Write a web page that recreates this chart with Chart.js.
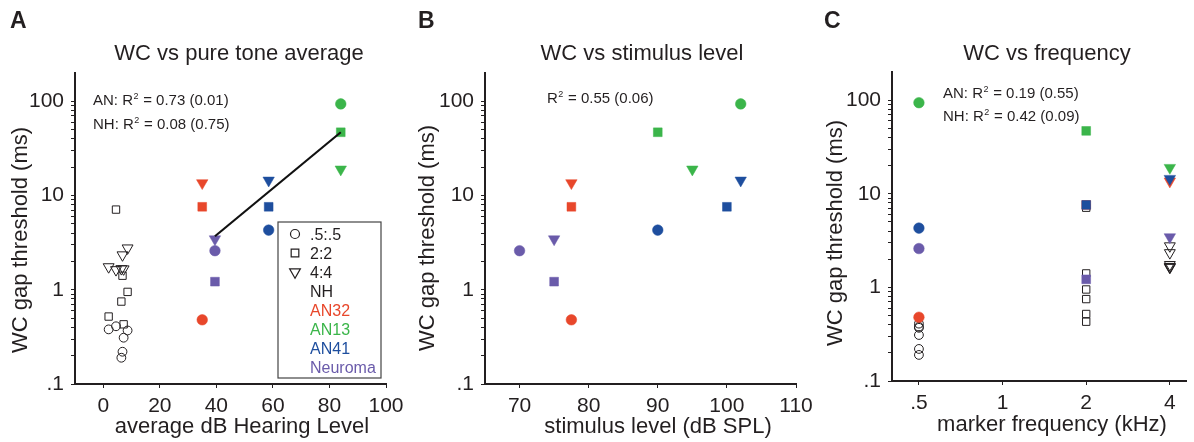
<!DOCTYPE html>
<html>
<head>
<meta charset="utf-8">
<script src="https://cdn.jsdelivr.net/npm/chart.js@4.4.1/dist/chart.umd.min.js"></script>
<style>
  html, body { margin: 0; padding: 0; background: #fff; }
  #fig { position: relative; width: 1194px; height: 442px; overflow: hidden; }
  #fig canvas { position: absolute; top: 0; }
</style>
</head>
<body>
<div id="fig">
  <canvas id="chartA" width="420" height="442" style="left:0px"></canvas>
  <canvas id="chartB" width="420" height="442" style="left:400px"></canvas>
  <canvas id="chartC" width="394" height="442" style="left:800px"></canvas>
</div>
<script>
// WC gap thresholds (ms), per marker condition: [.5:.5, 2:2, 4:4]
const an32WC = [0.48, 7.6, 13.6];
const an13WC = [94, 47, 19];
const an41WC = [4.3, 7.6, 14.5];
const neuromaWC = [2.6, 1.22, 3.45];

// pure tone average (dB HL) per patient
const an32PTA = 35;
const an13PTA = 84;
const an41PTA = 58.5;
const neuromaPTA = 39.5;

// stimulus level (dB SPL) per condition
const an32Level = [77.5, 77.5, 77.5];
const an13Level = [102, 90, 95];
const an41Level = [90, 100, 102];
const neuromaLevel = [70, 75, 75];

// normal hearing listeners
const nhPTA = [1.9, 4.5, 6.4, 6.8, 7.2, 8.6];
const nhWC05 = [0.38, 0.41, 0.19, 0.22, 0.31, 0.37];
const nhWC2 = [0.52, 7.1, 0.75, 1.41, 0.43, 0.95];
const nhWC4 = [1.75, 1.63, 1.67, 2.34, 1.66, 2.77];

// marker frequencies (kHz)
const markerFreq = [0.5, 2, 4];

// regression line, panel A
const fitPTA = [39.5, 84];
const fitWC = [3.7, 47];

// axis ticks
const wcTickValues = [0.1, 0.2, 0.3, 0.4, 0.5, 0.6, 0.7, 0.8, 0.9,
  1, 2, 3, 4, 5, 6, 7, 8, 9, 10, 20, 30, 40, 50, 60, 70, 80, 90, 100];
const wcMajor = [0.1, 1, 10, 100];
const wcMajorLabels = ['.1', '1', '10', '100'];
const ptaTicks = [0, 20, 40, 60, 80, 100];
const levelTicks = [70, 80, 90, 100, 110];
const freqTicks = [0.5, 1, 2, 4];
const freqTickLabels = ['.5', '1', '2', '4'];

const FONT = '"Liberation Sans", Arial, Helvetica, sans-serif';
const INK = '#231f20';
const colors = {
  AN32: '#e8472b',
  AN13: '#3bb54a',
  AN41: '#1e4e9e',
  Neuroma: '#6a5baa',
};

const shapes = ['circle', 'rect', 'triangle'];
const rotations = [0, 0, 180];
const filledRadius = [5.3, 6.2, 6.6];
const openRadius = [4.4, 5.2, 6.3];

function pts(xs, ys) {
  return ys.map((y, i) => ({ x: Array.isArray(xs) ? xs[i] : xs, y }));
}

function patientSet(label, xs, wc) {
  return {
    label,
    data: pts(xs, wc),
    pointStyle: shapes,
    pointRotation: rotations,
    pointRadius: filledRadius,
    pointHoverRadius: filledRadius,
    pointBackgroundColor: colors[label],
    pointBorderColor: colors[label],
    pointBorderWidth: 0.5,
  };
}

function nhSet(label, xs, wc, k) {
  return {
    label,
    data: pts(xs, wc),
    pointStyle: shapes[k],
    pointRotation: rotations[k],
    pointRadius: openRadius[k],
    pointHoverRadius: openRadius[k],
    pointBackgroundColor: 'rgba(255,255,255,0)',
    pointBorderColor: INK,
    pointBorderWidth: 1,
  };
}

function wcLabel(v) {
  const i = wcMajor.findIndex(m => Math.abs(m - v) < 1e-9);
  return i >= 0 ? wcMajorLabels[i] : '';
}

function wcAxis(width) {
  return {
    type: 'logarithmic',
    position: 'left',
    min: 0.1,
    max: 200,
    afterBuildTicks: s => { s.ticks = wcTickValues.map(v => ({ value: v })); },
    afterFit: s => { s.width = width; },
    ticks: { autoSkip: false, padding: 7, color: INK, font: { family: FONT, size: 21 }, callback: v => wcLabel(v) },
    grid: { drawOnChartArea: false, drawTicks: true, tickLength: 4, color: INK, lineWidth: 1 },
    border: { display: true, color: INK, width: 2 },
  };
}

function xAxis(extra, height) {
  return Object.assign({
    position: 'bottom',
    afterFit: s => { s.height = height; },
    ticks: { autoSkip: false, maxRotation: 0, padding: 6, color: INK, font: { family: FONT, size: 21 } },
    grid: { drawOnChartArea: false, drawTicks: true, tickLength: 4, color: INK, lineWidth: 1 },
    border: { display: true, color: INK, width: 2 },
  }, extra);
}

function textR2(ctx, x, y, prefix, rest) {
  ctx.fillStyle = INK;
  ctx.textAlign = 'left';
  ctx.textBaseline = 'alphabetic';
  ctx.font = `15px ${FONT}`;
  ctx.fillText(prefix, x, y);
  const w = ctx.measureText(prefix).width;
  ctx.font = `9px ${FONT}`;
  ctx.fillText('2', x + w + 0.5, y - 6);
  const w2 = ctx.measureText('2').width;
  ctx.font = `15px ${FONT}`;
  ctx.fillText(rest, x + w + w2 + 1, y);
}

// panel letter, title, axis titles, R2 notes, legend box
const decor = {
  id: 'decor',
  afterDraw(chart, args, o) {
    const ctx = chart.ctx;
    ctx.save();
    ctx.fillStyle = INK;
    ctx.textBaseline = 'alphabetic';

    ctx.font = `bold 23px ${FONT}`;
    ctx.textAlign = 'left';
    ctx.fillText(o.letter, o.letterX, 28);

    ctx.font = `22px ${FONT}`;
    ctx.textAlign = 'center';
    ctx.fillText(o.title, o.titleX, 60);
    ctx.fillText(o.xTitle, o.xTitleX, o.xTitleY);

    ctx.save();
    ctx.translate(o.yTitleX, o.yTitleY);
    ctx.rotate(-Math.PI / 2);
    ctx.fillText('WC gap threshold (ms)', 0, 0);
    ctx.restore();

    o.notes.forEach(n => textR2(ctx, n.x, n.y, n.prefix, n.rest));

    if (o.legend) {
      const L = o.legend;
      ctx.strokeStyle = '#444';
      ctx.lineWidth = 1.2;
      ctx.strokeRect(L.x, L.y, L.w, L.h);
      const rows = [
        { text: '.5:.5', color: INK, k: 0 },
        { text: '2:2', color: INK, k: 1 },
        { text: '4:4', color: INK, k: 2 },
        { text: 'NH', color: INK },
        { text: 'AN32', color: colors.AN32 },
        { text: 'AN13', color: colors.AN13 },
        { text: 'AN41', color: colors.AN41 },
        { text: 'Neuroma', color: colors.Neuroma },
      ];
      ctx.font = `16px ${FONT}`;
      ctx.textAlign = 'left';
      rows.forEach((r, i) => {
        const cy = L.y + 12 + i * 19;
        if (r.k !== undefined) {
          ctx.strokeStyle = INK;
          ctx.fillStyle = 'rgba(255,255,255,0)';
          ctx.lineWidth = 1.2;
          Chart.helpers.drawPoint(ctx, {
            pointStyle: shapes[r.k],
            rotation: rotations[r.k],
            radius: [4.5, 5.4, 6.2][r.k],
            borderWidth: 1.2,
          }, L.x + 17, cy);
        }
        ctx.fillStyle = r.color;
        ctx.fillText(r.text, L.x + 32, cy + 5.8);
      });
    }
    ctx.restore();
  }
};

function makeChart(id, datasets, scales, padding, deco) {
  return new Chart(document.getElementById(id), {
    type: 'scatter',
    data: { datasets },
    options: {
      responsive: false,
      animation: false,
      events: [],
      layout: { padding },
      plugins: { legend: { display: false }, tooltip: { enabled: false }, decor: deco },
      scales,
    },
    plugins: [decor],
  });
}

// Panel A: WC vs pure tone average
makeChart('chartA', [
  {
    type: 'line',
    label: 'fit',
    data: pts(fitPTA, fitWC),
    borderColor: '#111',
    borderWidth: 2.2,
    pointRadius: 0,
    showLine: true,
  },
  patientSet('Neuroma', neuromaPTA, neuromaWC),
  patientSet('AN41', an41PTA, an41WC),
  patientSet('AN13', an13PTA, an13WC),
  patientSet('AN32', an32PTA, an32WC),
  nhSet('NH .5', nhPTA, nhWC05, 0),
  nhSet('NH 2', nhPTA, nhWC2, 1),
  nhSet('NH 4', nhPTA, nhWC4, 2),
], {
  x: xAxis({ type: 'linear', min: -10, max: 100,
    afterBuildTicks: s => { s.ticks = ptaTicks.map(v => ({ value: v })); } }, 58),
  y: wcAxis(75),
}, { top: 73, right: 34, left: 0, bottom: 0 }, {
  letter: 'A', letterX: 10,
  title: 'WC vs pure tone average', titleX: 239,
  xTitle: 'average dB Hearing Level', xTitleX: 242, xTitleY: 433,
  yTitleX: 27, yTitleY: 240,
  notes: [
    { x: 93, y: 105, prefix: 'AN: R', rest: ' = 0.73 (0.01)' },
    { x: 93, y: 128.5, prefix: 'NH: R', rest: ' = 0.08 (0.75)' },
  ],
  legend: { x: 278, y: 222, w: 103, h: 156 },
});

// Panel B: WC vs stimulus level
makeChart('chartB', [
  patientSet('Neuroma', neuromaLevel, neuromaWC),
  patientSet('AN41', an41Level, an41WC),
  patientSet('AN13', an13Level, an13WC),
  patientSet('AN32', an32Level, an32WC),
], {
  x: xAxis({ type: 'linear', min: 65, max: 110,
    afterBuildTicks: s => { s.ticks = levelTicks.map(v => ({ value: v })); } }, 58),
  y: wcAxis(85),
}, { top: 73, right: 24, left: 0, bottom: 0 }, {
  letter: 'B', letterX: 18,
  title: 'WC vs stimulus level', titleX: 242,
  xTitle: 'stimulus level (dB SPL)', xTitleX: 258, xTitleY: 433,
  yTitleX: 34, yTitleY: 238,
  notes: [
    { x: 147, y: 102.7, prefix: 'R', rest: ' = 0.55 (0.06)' },
  ],
});

// Panel C: WC vs frequency
makeChart('chartC', [
  patientSet('Neuroma', markerFreq, neuromaWC),
  patientSet('AN41', markerFreq, an41WC),
  patientSet('AN13', markerFreq, an13WC),
  patientSet('AN32', markerFreq, an32WC),
  nhSet('NH .5', markerFreq[0], nhWC05, 0),
  nhSet('NH 2', markerFreq[1], nhWC2, 1),
  nhSet('NH 4', markerFreq[2], nhWC4, 2),
], {
  x: xAxis({ type: 'logarithmic', min: 0.4, max: 4.6,
    afterBuildTicks: s => { s.ticks = freqTicks.map(v => ({ value: v })); } }, 61),
  y: wcAxis(92),
}, { top: 72, right: 4, left: 0, bottom: 0 }, {
  letter: 'C', letterX: 24,
  title: 'WC vs frequency', titleX: 247,
  xTitle: 'marker frequency (kHz)', xTitleX: 252, xTitleY: 431,
  yTitleX: 42, yTitleY: 233,
  notes: [
    { x: 143, y: 98, prefix: 'AN: R', rest: ' = 0.19 (0.55)' },
    { x: 143, y: 120.7, prefix: 'NH: R', rest: ' = 0.42 (0.09)' },
  ],
});

// tick labels for the frequency axis
Chart.getChart('chartC').options.scales.x.ticks.callback = v => {
  const i = freqTicks.findIndex(f => Math.abs(f - v) < 1e-9);
  return i >= 0 ? freqTickLabels[i] : '';
};
Chart.getChart('chartC').update();
</script>
</body>
</html>
